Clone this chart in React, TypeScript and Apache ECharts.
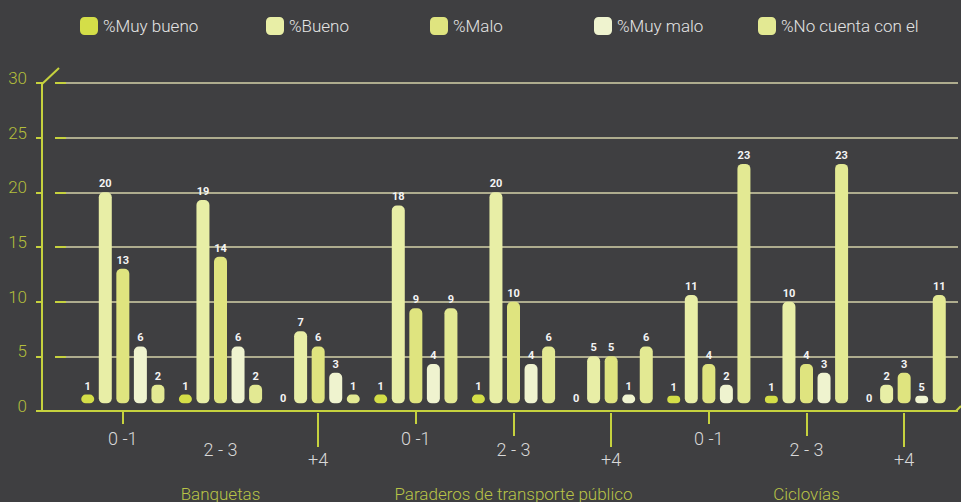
import React, { useEffect, useRef } from 'react';
import * as echarts from 'echarts';

const groups = ['Banquetas', 'Paraderos de transporte público', 'Ciclovías'];
const ranges = ['0 -1', '2 - 3', '+4'];
const seriesNames = ['%Muy bueno', '%Bueno', '%Malo', '%Muy malo', '%No cuenta con el'];
const seriesColors = ['#d4de48', '#e8eea6', '#dfe47f', '#eff3cf', '#e3e993'];

// bar heights (Banquetas 0-1, 2-3, +4, Paraderos ..., Ciclovías ...)
const muyBueno = [1.5, 1.5, 0, 1.5, 1.5, 0, 1.4, 1.4, 0];
const bueno = [20, 19.3, 7.3, 18.8, 20, 5, 10.6, 10, 2.4];
const malo = [13, 14.1, 5.9, 9.4, 10, 5, 4.3, 4.3, 3.5];
const muyMalo = [5.9, 5.9, 3.5, 4.3, 4.3, 1.5, 2.4, 3.5, 1.4];
const noCuenta = [2.4, 2.4, 1.5, 9.4, 5.9, 5.9, 22.6, 22.6, 10.6];

// value labels as printed on the chart
const muyBuenoLabels = ['1', '1', '0', '1', '1', '0', '1', '1', '0'];
const buenoLabels = ['20', '19', '7', '18', '20', '5', '11', '10', '2'];
const maloLabels = ['13', '14', '6', '9', '10', '5', '4', '4', '3'];
const muyMaloLabels = ['6', '6', '3', '4', '4', '1', '2', '3', '5'];
const noCuentaLabels = ['2', '2', '1', '9', '6', '6', '23', '23', '11'];

const yMin = 0;
const yMax = 30;
const yInterval = 5;

export default function App() {
  const ref = useRef<HTMLDivElement>(null);

  useEffect(() => {
    if (!ref.current) return;
    document.body.style.margin = '0';
    document.body.style.background = '#3f3f41';
    const chart = echarts.init(ref.current, undefined, { renderer: 'svg' });

    const categories = groups.flatMap((g) => ranges.map((r) => g + '|' + r));
    const allValues = [muyBueno, bueno, malo, muyMalo, noCuenta];
    const allLabels = [muyBuenoLabels, buenoLabels, maloLabels, muyMaloLabels, noCuentaLabels];
    const BASE = 0.7;
    const yellow = '#c6d23e';
    const font = 'Roboto, "Noto Sans", sans-serif';

    const series: any[] = [];
    allValues.forEach((vals, i) => {
      const stack = 'st' + i;
      series.push({
        type: 'bar',
        name: '_base' + i,
        stack,
        xAxisIndex: 0,
        yAxisIndex: 0,
        barWidth: 13,
        barGap: '35%',
        silent: true,
        data: vals.map(() => BASE),
        itemStyle: { color: 'rgba(0,0,0,0)' },
        label: { show: false },
      });
      series.push({
        type: 'bar',
        name: seriesNames[i],
        stack,
        xAxisIndex: 0,
        yAxisIndex: 0,
        barWidth: 13,
        barGap: '35%',
        data: vals.map((v) => (v > 0 ? +(v - BASE).toFixed(2) : { value: 0, label: { offset: [0, 4] } })),
        itemStyle: { color: seriesColors[i], borderRadius: 5 },
        label: {
          show: true,
          position: 'top',
          distance: 3,
          color: '#f4f4f4',
          fontSize: 11,
          fontWeight: 'bold',
          fontFamily: font,
          formatter: (p: any) => allLabels[i][p.dataIndex],
        },
      });
    });

    const tickAxis = (k: number, len: number, margin: number, tickFilter: (i: number) => boolean) => ({
      type: 'category',
      gridIndex: 0,
      position: 'bottom',
      offset: 2,
      data: categories,
      axisLine: { show: false },
      axisTick: {
        show: true,
        alignWithLabel: true,
        length: len,
        interval: (i: number) => i % 3 === k && tickFilter(i),
        lineStyle: { color: yellow, width: 2 },
      },
      axisLabel: {
        show: true,
        interval: (i: number) => i % 3 === k,
        margin,
        color: '#d9d9d9',
        fontSize: 18,
        fontWeight: 300,
        fontFamily: font,
        formatter: (v: string) => v.split('|')[1],
      },
      splitLine: { show: false },
    });

    const legendLefts = [80, 266, 430, 594, 758];

    const option: any = {
      animation: false,
      backgroundColor: '#3f3f41',
      legend: seriesNames.map((n, i) => ({
        data: [n],
        left: legendLefts[i],
        top: 17,
        padding: 0,
        icon: 'roundRect',
        itemWidth: 18,
        itemHeight: 18,
        itemGap: 5,
        textStyle: { color: '#e4e4e4', fontSize: 17, fontFamily: font, fontWeight: 300 },
      })),
      grid: [
        { left: 74, right: 8, top: 83, bottom: 91 },
        { left: 42, right: 4, top: 83, bottom: 91 },
        { left: 66, right: 3, top: 83, bottom: 91 },
      ],
      xAxis: [
        tickAxis(0, 13, 16, () => true),
        tickAxis(1, 23, 27, (i) => i !== 1),
        tickAxis(2, 34, 37, () => true),
        {
          type: 'category',
          gridIndex: 0,
          position: 'bottom',
          data: groups,
          axisLine: { show: false },
          axisTick: { show: false },
          axisLabel: {
            show: true,
            interval: 0,
            hideOverlap: false,
            margin: 74,
            color: '#b9c447',
            fontSize: 17,
            fontWeight: 300,
            fontFamily: font,
          },
          splitLine: { show: false },
        },
        {
          type: 'value',
          gridIndex: 1,
          min: 0,
          max: 1,
          z: 5,
          axisLine: { show: true, lineStyle: { color: yellow, width: 2 } },
          axisTick: { show: false },
          axisLabel: { show: false },
          splitLine: { show: false },
        },
        { type: 'value', gridIndex: 2, min: 0, max: 1, show: false },
      ],
      yAxis: [
        { type: 'value', gridIndex: 0, min: yMin, max: yMax, interval: yInterval, show: false },
        {
          type: 'value',
          gridIndex: 1,
          min: yMin,
          max: yMax,
          interval: yInterval,
          z: 5,
          axisLine: { show: true, lineStyle: { color: yellow, width: 2 } },
          axisTick: { show: true, length: 6, lineStyle: { color: yellow, width: 2 } },
          axisLabel: {
            show: true,
            margin: 15,
            color: '#b3be3c',
            fontSize: 17,
            fontWeight: 300,
            fontFamily: font,
            verticalAlign: 'bottom',
            lineHeight: 10,
          },
          splitLine: { show: false },
        },
        {
          type: 'value',
          gridIndex: 2,
          min: yMin,
          max: yMax,
          interval: yInterval,
          offset: 7,
          z: 0,
          axisLine: { show: false },
          axisTick: { show: true, length: 11, lineStyle: { color: yellow, width: 2 } },
          axisLabel: { show: false },
          splitLine: { show: true, lineStyle: { color: '#aeac8e', width: 2 } },
        },
      ],
      graphic: [
        { type: 'line', shape: { x1: 42, y1: 84, x2: 59, y2: 68 }, style: { stroke: yellow, lineWidth: 2 } },
        { type: 'line', shape: { x1: 956, y1: 411, x2: 961, y2: 406 }, style: { stroke: yellow, lineWidth: 2 } },
      ],
      series,
    };

    chart.setOption(option);
    return () => chart.dispose();
  }, []);

  return <div ref={ref} style={{ position: 'absolute', left: 0, top: 0, width: 961, height: 502 }} />;
}
